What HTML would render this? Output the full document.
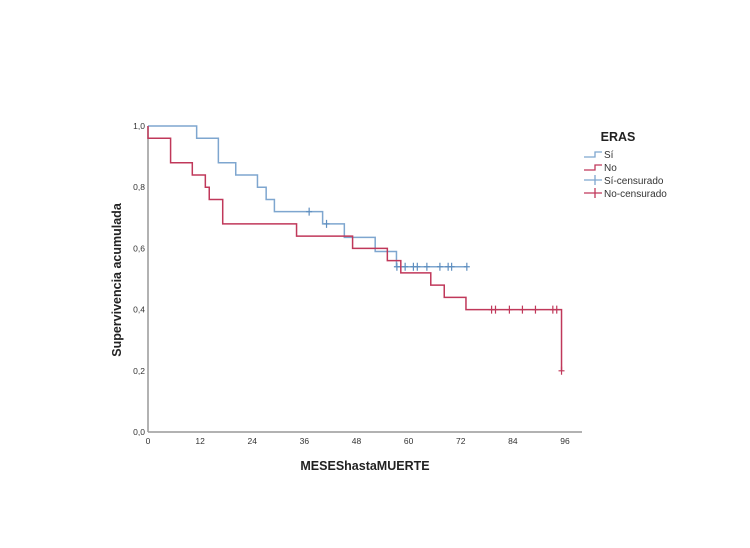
<!DOCTYPE html>
<html><head><meta charset="utf-8"><style>
body{margin:0;background:#fff;}
svg{display:block;font-family:"Liberation Sans",Arial,sans-serif;}
</style></head><body>
<svg id="chart" width="750" height="548">
<g id="axes"></g><g id="series"></g>
<text x="365" y="470" text-anchor="middle" font-size="12.5" font-weight="bold" fill="#222">MESEShastaMUERTE</text>
<text transform="translate(121,280) rotate(-90)" text-anchor="middle" font-size="12.5" font-weight="bold" fill="#222">Supervivencia acumulada</text>
<g>
<text x="618" y="141" text-anchor="middle" font-size="12.5" font-weight="bold" fill="#222">ERAS</text>
<g><path d="M584 157H595V152H602" fill="none" stroke="#7ea6cf" stroke-width="1.3"/><text x="604" y="158" font-size="10" fill="#333">Sí</text></g>
<g><path d="M584 170H595V165H602" fill="none" stroke="#c0385a" stroke-width="1.3"/><text x="604" y="171" font-size="10" fill="#333">No</text></g>
<g><path d="M584 180H602M595 175V185" fill="none" stroke="#7ea6cf" stroke-width="1.3"/><text x="604" y="184" font-size="10" fill="#333">Sí-censurado</text></g>
<g><path d="M584 193H602M595 188V198" fill="none" stroke="#c0385a" stroke-width="1.3"/><text x="604" y="197" font-size="10" fill="#333">No-censurado</text></g>
</g>
</svg>
<script>
const xTicks=[0,12,24,36,48,60,72,84,96];
const yTicks=[0,0.2,0.4,0.6,0.8,1.0];
const siTimes=[0,11.2,16.2,20.2,25.2,27.2,29.1,40.2,45.2,52.3,57.2];
const siSurv=[1.0,0.96,0.88,0.84,0.80,0.76,0.72,0.68,0.636,0.59,0.54];
const siEnd=73.4;
const siCensT=[37.1,41.1,57.3,59.2,61.1,62.0,64.2,67.2,69.1,69.9,73.4];
const noTimes=[0,5.2,10.2,13.2,14.1,17.2,34.2,47.1,55.1,58.2,65.1,68.2,73.2,95.2];
const noSurv=[0.96,0.88,0.84,0.80,0.76,0.68,0.64,0.60,0.56,0.52,0.48,0.44,0.40,0.20];
const noEnd=95.2;
const noCensT=[79.1,80.0,83.2,86.2,89.2,93.2,94.1,95.2];
const X=t=>148+t*(565-148)/96, Y=v=>432-v*306;
const NS="http://www.w3.org/2000/svg";
function mk(tag,attrs,parent,txt){const e=document.createElementNS(NS,tag);for(const k in attrs)e.setAttribute(k,attrs[k]);if(txt!=null)e.textContent=txt;parent.appendChild(e);return e;}
const ax=document.getElementById('axes'),se=document.getElementById('series');
const yl=mk('line',{x1:148,y1:Y(1),x2:148,y2:432,stroke:'#999','stroke-width':1.5},ax);


const xl=mk('line',{x1:148,y1:432,x2:582,y2:432,stroke:'#999','stroke-width':1.5},ax);


xTicks.forEach(t=>{const e=mk('text',{x:X(t),y:444,'text-anchor':'middle','font-size':8.5,fill:'#333'},ax,t);

});
yTicks.forEach(v=>{const e=mk('text',{x:145,y:Y(v)+3,'text-anchor':'end','font-size':8.5,fill:'#333'},ax,v.toFixed(1).replace('.',','));

});
function stepPath(ts,ss,end,start){let d='M'+X(0)+' '+Y(start);ts.forEach((t,i)=>{d+='H'+X(t)+'V'+Y(ss[i]);});d+='H'+X(end);return d;}
function censor(ts,times,surv,col,name){ts.forEach(t=>{let v=surv[0];times.forEach((tt,i)=>{if(tt<=t)v=surv[i];});const x=X(t),y=Y(v);
const p=mk('path',{d:`M${x} ${y-4}V${y+4}M${x-3} ${y}H${x+3}`,stroke:col,'stroke-width':1.2},se);

});}
const ps=mk('path',{d:stepPath(siTimes,siSurv,siEnd,1.0),fill:'none',stroke:'#7ea6cf','stroke-width':1.5},se);


const pn=mk('path',{d:stepPath(noTimes,noSurv,noEnd,1.0),fill:'none',stroke:'#c0385a','stroke-width':1.5},se);


censor(siCensT,siTimes,siSurv,'#5f8fc0','censor-si');
censor(noCensT,noTimes,noSurv,'#c0385a','censor-no');
</script>
</body></html>
